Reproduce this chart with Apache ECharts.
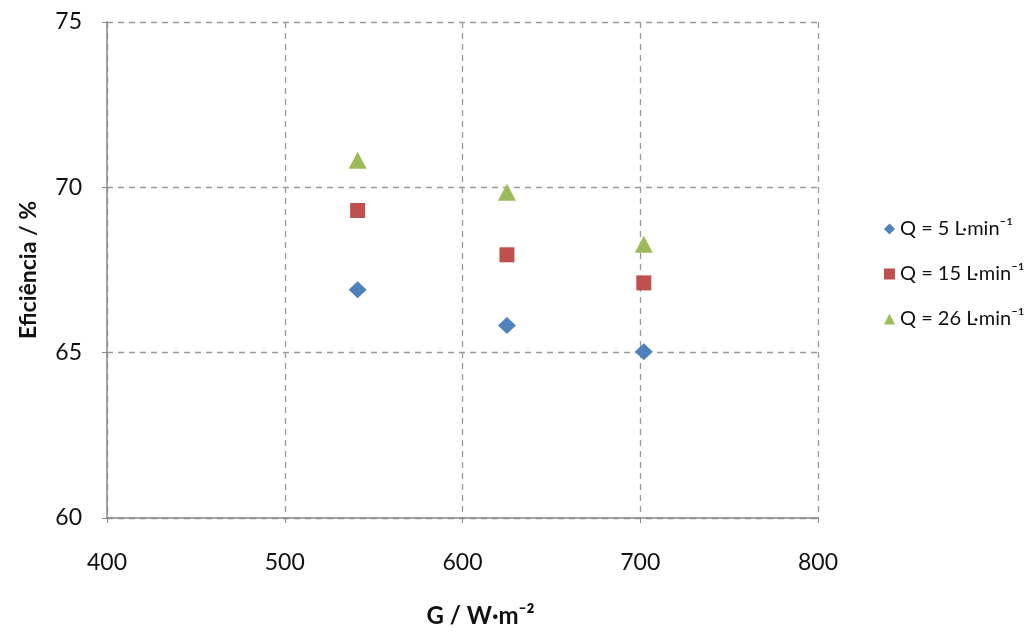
<!DOCTYPE html>
<html>
<head>
<meta charset="utf-8">
<script src="https://cdn.jsdelivr.net/npm/echarts@6/dist/echarts.min.js"></script>
<style>html,body{margin:0;padding:0;background:#fff;}#c{width:1034px;height:633px;}</style>
</head>
<body>
<div id="c"></div>
<script>
const seriesNames = ['Q = 5 L·min⁻¹', 'Q = 15 L·min⁻¹', 'Q = 26 L·min⁻¹'];
const gValues = [541, 625, 702];
const q5 = [66.9, 65.82, 65.03];
const q15 = [69.3, 67.96, 67.11];
const q26 = [70.82, 69.85, 68.28];
const xTicks = [400, 500, 600, 700, 800];
const yTicks = [60, 65, 70, 75];

const colors = ['#4F81BD', '#C0504D', '#9BBB59'];
const symbols = ['diamond', 'rect', 'triangle'];
const sizes = [[18, 17], [15, 15], [18, 17]];
const allVals = [q5, q15, q26];

const chart = echarts.init(document.getElementById('c'));
const font = 'Lato, "Open Sans", sans-serif';
chart.setOption({
  animation: false,
  textStyle: { fontFamily: font },
  grid: { left: 107, top: 22, right: 216, bottom: 112 },
  legend: {
    orient: 'vertical', left: 879, top: 214, itemGap: 25,
    itemWidth: 11, itemHeight: 11,
    textStyle: { fontSize: 20, color: '#111', fontFamily: font },
    data: seriesNames.map((n, i) => ({ name: n, icon: symbols[i], itemStyle: { color: colors[i], opacity: 1 } }))
  },
  xAxis: {
    type: 'value', min: xTicks[0], max: xTicks[xTicks.length - 1], interval: 100,
    name: 'G / W·m⁻²', nameLocation: 'middle', nameGap: 86,
    nameTextStyle: { fontSize: 24, fontWeight: 'bold', color: '#111', padding: [0, 0, 0, 36] },
    axisLine: { show: true, lineStyle: { color: '#888', width: 1.5 } },
    axisTick: { show: true, length: 5, lineStyle: { color: '#888' } },
    axisLabel: { fontSize: 23, color: '#111', margin: 33 },
    splitLine: { show: true, lineStyle: { color: '#999', type: [6, 5], width: 1.3 } }
  },
  yAxis: {
    type: 'value', min: yTicks[0], max: yTicks[yTicks.length - 1], interval: 5,
    name: 'Eficiência / %', nameLocation: 'middle', nameGap: 67,
    nameTextStyle: { fontSize: 23, fontWeight: 'bold', color: '#111' },
    axisLine: { show: true, lineStyle: { color: '#888', width: 1.5 } },
    axisTick: { show: true, length: 5, lineStyle: { color: '#888' } },
    axisLabel: { fontSize: 23, color: '#111', margin: 25 },
    splitLine: { show: true, lineStyle: { color: '#999', type: [6, 5], width: 1.3 } }
  },
  series: seriesNames.map((n, i) => ({
    name: n, type: 'scatter', symbol: symbols[i], symbolSize: sizes[i],
    itemStyle: { color: colors[i], opacity: 1 },
    data: gValues.map((g, j) => [g, allVals[i][j]])
  }))
});
</script>
</body>
</html>
